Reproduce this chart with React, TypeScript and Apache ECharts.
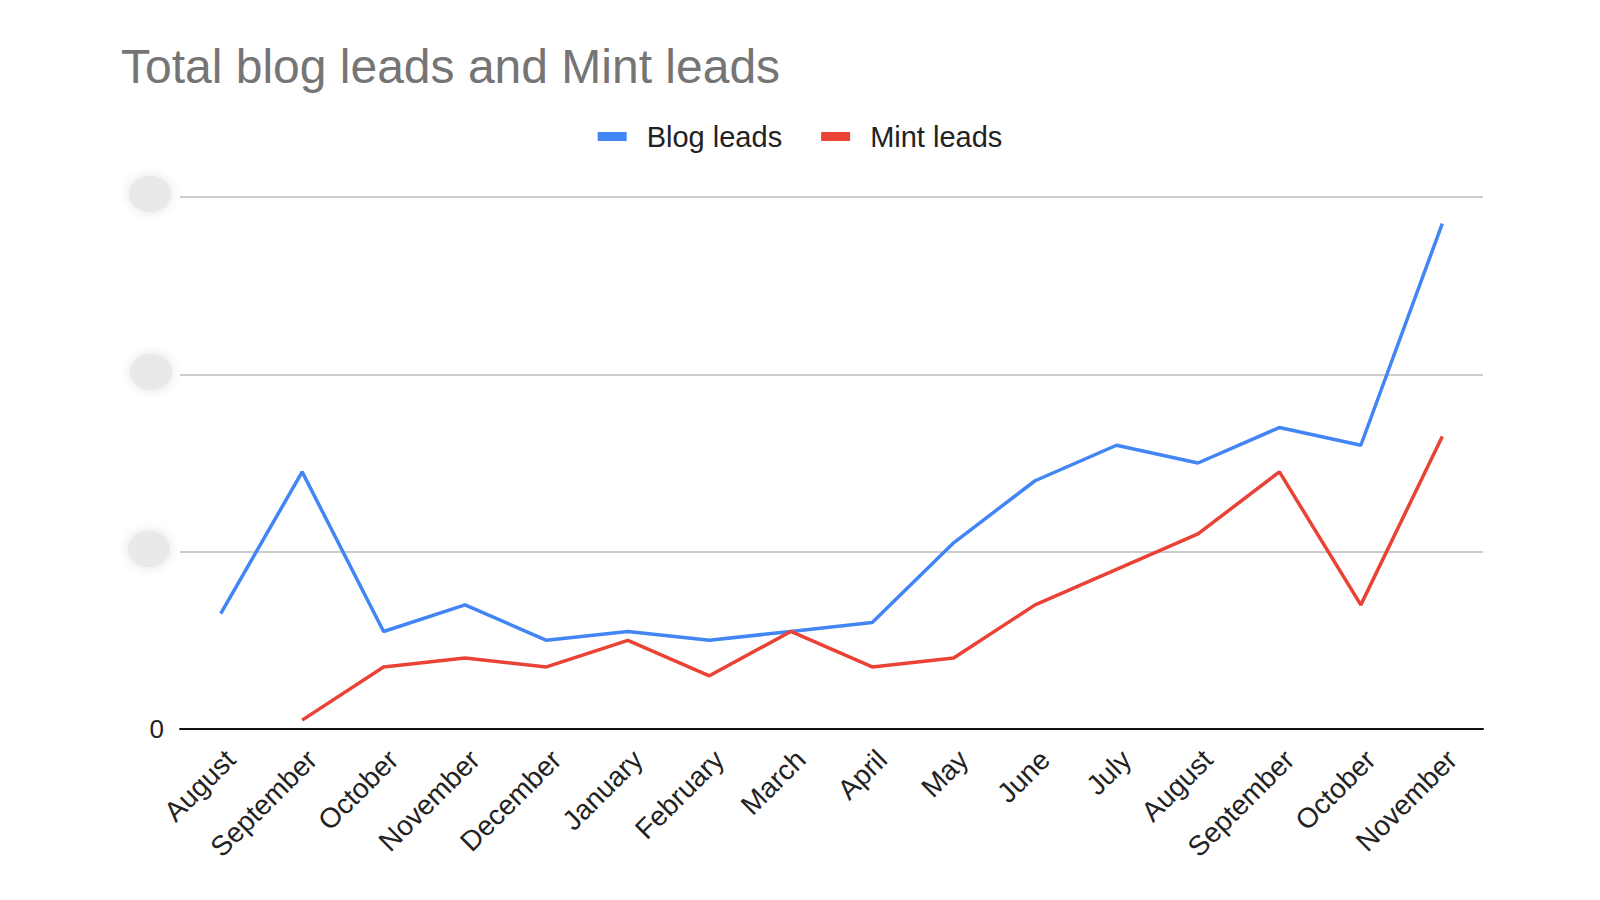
import React, { useEffect, useRef } from "react";
import * as echarts from "echarts";

const categories = [
  "August", "September", "October", "November", "December", "January", "February", "March",
  "April", "May", "June", "July", "August", "September", "October", "November",
];
const blogLeads = [13, 29, 11, 14, 10, 11, 10, 11, 12, 21, 28, 32, 30, 34, 32, 57];
const mintLeads = [null, 1, 7, 8, 7, 10, 6, 11, 7, 8, 14, 18, 22, 29, 14, 33];
const yTickLabels: Record<number, string> = { 0: "0" };

export default function App() {
  const ref = useRef<HTMLDivElement>(null);
  useEffect(() => {
    if (!ref.current) return;
    const chart = echarts.init(ref.current, undefined, { renderer: "svg" });
    const font = "'Liberation Sans', Arial, sans-serif";
    const blob = (x: number, y: number) => ({
      type: "ellipse",
      shape: { cx: x, cy: y, rx: 21, ry: 18 },
      style: { fill: "#e9e9e9", shadowBlur: 12, shadowColor: "#e2e2e2" },
      silent: true,
    });
    chart.setOption({
      animation: false,
      backgroundColor: "#ffffff",
      title: {
        text: "Total blog leads and Mint leads",
        left: 116,
        top: 37,
        textStyle: { fontFamily: font, fontSize: 48, fontWeight: "normal", color: "#757575" },
      },
      legend: {
        left: "center",
        top: 117,
        itemWidth: 29,
        itemHeight: 9,
        itemGap: 39,
        icon: "rect",
        textStyle: { fontFamily: font, fontSize: 29, color: "#222222", padding: [0, 0, 0, 15] },
        data: ["Blog leads", "Mint leads"],
      },
      grid: { left: 180, right: 117, top: 197, bottom: 171, containLabel: false },
      xAxis: {
        type: "category",
        data: categories,
        boundaryGap: true,
        axisLine: { lineStyle: { color: "#111111", width: 2 } },
        axisTick: { show: false },
        axisLabel: {
          rotate: 45,
          margin: 16,
          interval: 0,
          verticalAlign: "top",
          fontFamily: font,
          fontSize: 28,
          color: "#222222",
        },
      },
      yAxis: {
        type: "value",
        min: 0,
        max: 60,
        interval: 20,
        axisLine: { show: false },
        axisTick: { show: false },
        splitLine: { lineStyle: { color: "#cccccc", width: 2 } },
        axisLabel: {
          margin: 16,
          fontFamily: font,
          fontSize: 26,
          color: "#222222",
          formatter: (v: number) => yTickLabels[v] ?? "",
        },
      },
      graphic: [blob(150, 194), blob(151, 372), blob(149, 549)],
      series: [
        {
          name: "Blog leads",
          type: "line",
          data: blogLeads,
          symbol: "none",
          color: "#4285F4",
          lineStyle: { width: 3.5, color: "#4285F4" },
        },
        {
          name: "Mint leads",
          type: "line",
          data: mintLeads,
          symbol: "none",
          color: "#EA4335",
          lineStyle: { width: 3.5, color: "#EA4335" },
        },
      ],
    });
    return () => chart.dispose();
  }, []);
  return (
    <div
      ref={ref}
      style={{ position: "fixed", left: 0, top: 0, width: 1600, height: 900, background: "#fff" }}
    />
  );
}
